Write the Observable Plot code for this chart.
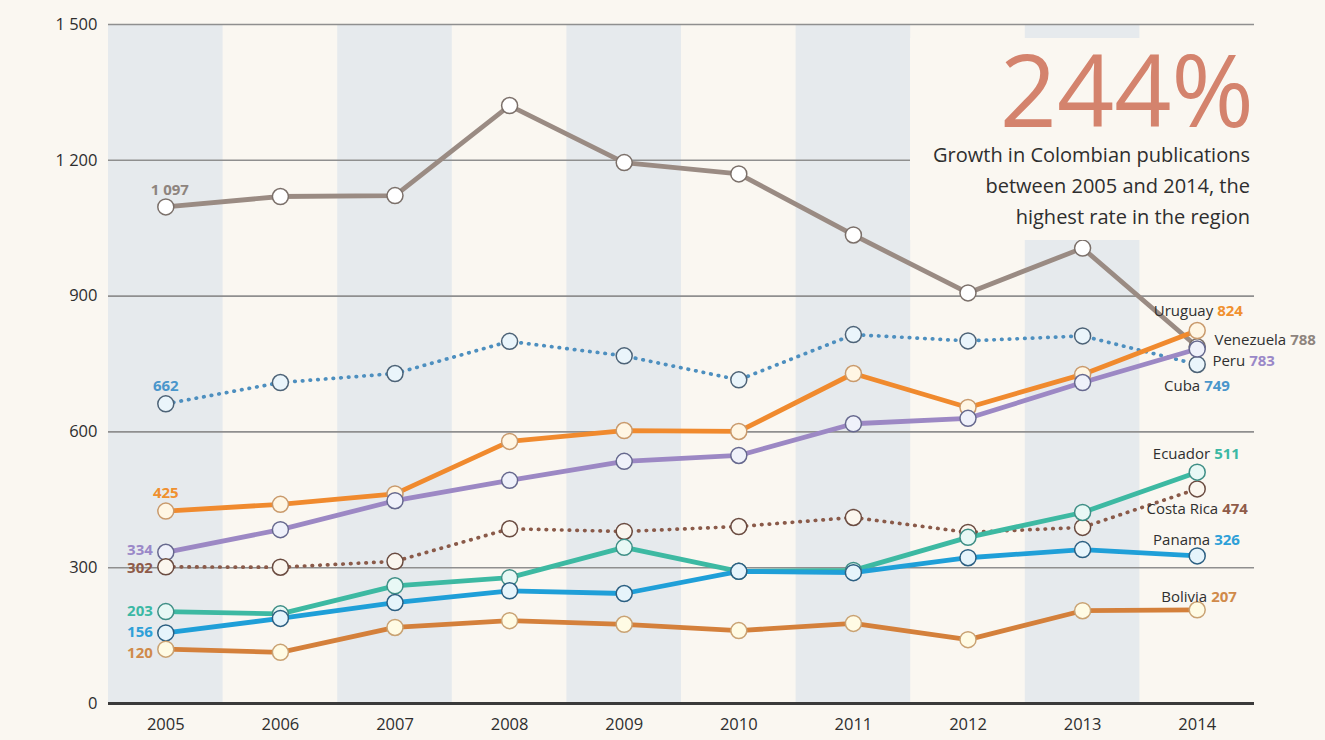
<!DOCTYPE html>
<html>
<head>
<meta charset="utf-8">
<script src="https://cdn.jsdelivr.net/npm/d3@7"></script>
<script src="https://cdn.jsdelivr.net/npm/@observablehq/plot@0.6"></script>
<style>
  html, body { margin: 0; padding: 0; background: #faf7f1; }
  body { font-family: "Open Sans", sans-serif; }
  #wrap { position: relative; width: 1325px; height: 740px; overflow: hidden; }
  #note { position: absolute; left: 910px; top: 38px; width: 344px; height: 202px; background: #faf7f1; }
  #note .big { position: absolute; right: 0; top: 8px; font-size: 100px; line-height: 84px; color: #d4836d; font-weight: 400; white-space: nowrap; }
  #note .sub { position: absolute; right: 4px; top: 101px; font-size: 20px; line-height: 31px; color: #2e2e2e; text-align: right; white-space: nowrap; }
</style>
</head>
<body>
<div id="wrap">
  <div id="chart"></div>
  <div id="note">
    <div class="big">244%</div>
    <div class="sub">Growth in Colombian publications<br>between 2005 and 2014, the<br>highest rate in the region</div>
  </div>
</div>
<script>
// ---------- data ----------
const years = [2005, 2006, 2007, 2008, 2009, 2010, 2011, 2012, 2013, 2014];
const countries = ["Venezuela", "Cuba", "Uruguay", "Peru", "Costa Rica", "Ecuador", "Panama", "Bolivia"];
const venezuela = [1097, 1120, 1122, 1321, 1195, 1170, 1035, 907, 1006, 788];
const cuba      = [662, 709, 729, 800, 768, 715, 815, 801, 812, 749];
const uruguay   = [425, 440, 463, 579, 603, 601, 729, 654, 727, 824];
const peru      = [334, 384, 448, 493, 535, 548, 618, 630, 709, 783];
const costaRica = [302, 301, 314, 386, 380, 391, 411, 378, 389, 474];
const ecuador   = [203, 198, 260, 278, 345, 292, 294, 367, 422, 511];
const panama    = [156, 188, 223, 249, 243, 292, 289, 322, 340, 326];
const bolivia   = [120, 113, 168, 183, 175, 161, 177, 141, 205, 207];
const yTicks = [0, 300, 600, 900, 1200, 1500];

const seriesValues = {
  "Venezuela": venezuela, "Cuba": cuba, "Uruguay": uruguay, "Peru": peru,
  "Costa Rica": costaRica, "Ecuador": ecuador, "Panama": panama, "Bolivia": bolivia
};

// ---------- styles ----------
const style = {
  "Venezuela":  {line: "#9a8b83", fill: "#ffffff", ring: "#7b706a", label: "#8e847e", dotted: false},
  "Cuba":       {line: "#4d8fbf", fill: "#eaf5fb", ring: "#4d6377", label: "#4a96cb", dotted: true},
  "Uruguay":    {line: "#f08a2e", fill: "#fff6e4", ring: "#c99a6c", label: "#f0902f", dotted: false},
  "Peru":       {line: "#9c88c4", fill: "#eff1fa", ring: "#66688e", label: "#9a88c8", dotted: false},
  "Costa Rica": {line: "#8a5a49", fill: "#fbf6ee", ring: "#6a4b40", label: "#8f5b49", dotted: true},
  "Ecuador":    {line: "#3db9a2", fill: "#e8f8f5", ring: "#3f8f86", label: "#3bb8a4", dotted: false},
  "Panama":     {line: "#1f9fd8", fill: "#e6f4fb", ring: "#2b5f82", label: "#2ea0d8", dotted: false},
  "Bolivia":    {line: "#d4803b", fill: "#fffbe4", ring: "#c9a273", label: "#d08a4a", dotted: false}
};
// label offsets (pixels) relative to the point
const leftLabel = {
  "Venezuela":  {dx: 4, dy: -17, anchor: "middle"},
  "Cuba":       {dx: 0, dy: -18, anchor: "middle"},
  "Uruguay":    {dx: 0, dy: -18, anchor: "middle"},
  "Peru":       {dx: -13, dy: -2, anchor: "end"},
  "Costa Rica": {dx: -13, dy: 1, anchor: "end"},
  "Ecuador":    {dx: -13, dy: 0, anchor: "end"},
  "Panama":     {dx: -13, dy: -1, anchor: "end"},
  "Bolivia":    {dx: -13, dy: 4, anchor: "end"}
};
const rightLabel = {
  "Uruguay":    {split: 18, dy: -19},
  "Venezuela":  {split: 91, dy: -7},
  "Peru":       {split: 50, dy: 12},
  "Cuba":       {split: 5, dy: 22},
  "Ecuador":    {split: 15, dy: -18},
  "Costa Rica": {split: 23, dy: 20},
  "Panama":     {split: 15, dy: -16},
  "Bolivia":    {split: 12, dy: -13}
};

const fmt = d3.formatLocale({decimal: ".", thousands: " ", grouping: [3], currency: ["", ""]}).format(",");

const rows = countries.flatMap(c => years.map((yr, i) => ({country: c, year: yr, value: seriesValues[c][i]})));
const first = rows.filter(d => d.year === years[0]);
const last = rows.filter(d => d.year === years[years.length - 1]);

const marks = [];
// alternating vertical bands
marks.push(Plot.rect(years.filter((d, i) => i % 2 === 0), {
  x1: d => d - 0.5, x2: d => d + 0.5, y1: yTicks[0], y2: yTicks[yTicks.length - 1], fill: "#e6eaed"
}));
marks.push(Plot.ruleY(yTicks.slice(1), {stroke: "#8f8f8f", strokeWidth: 1.6}));
marks.push(Plot.ruleY([yTicks[0]], {stroke: "#3a3a3a", strokeWidth: 3}));
marks.push(Plot.axisX({ticks: years, tickFormat: "d", tickSize: 0, tickPadding: 15, fontSize: 16.5, fill: "#2e2e2e", label: null}));
marks.push(Plot.axisY({ticks: yTicks, tickFormat: fmt, tickSize: 0, tickPadding: 11, fontSize: 16.5, fill: "#2e2e2e", label: null}));

// lines
for (const c of countries) {
  const s = style[c];
  const data = rows.filter(d => d.country === c);
  marks.push(Plot.line(data, s.dotted
    ? {x: "year", y: "value", stroke: s.line, strokeWidth: 3.7, strokeDasharray: "0.5 7.2", strokeLinecap: "round"}
    : {x: "year", y: "value", stroke: s.line, strokeWidth: 4.8, strokeLinejoin: "round", strokeLinecap: "round"}));
}
// points
for (const c of countries) {
  const s = style[c];
  marks.push(Plot.dot(rows.filter(d => d.country === c), {
    x: "year", y: "value", r: 8, fill: s.fill, stroke: s.ring, strokeWidth: 1.5
  }));
}
// left value labels
for (const c of countries) {
  const L = leftLabel[c];
  marks.push(Plot.text(first.filter(d => d.country === c), {
    x: "year", y: "value", text: d => fmt(d.value), dx: L.dx, dy: L.dy, textAnchor: L.anchor,
    fill: style[c].label, fontWeight: "bold", fontSize: 15
  }));
}
// right labels: name + value
for (const c of countries) {
  const R = rightLabel[c];
  const d = last.filter(r => r.country === c);
  marks.push(Plot.text(d, {
    x: "year", y: "value", text: "country", dx: R.split - 2, dy: R.dy, textAnchor: "end",
    fill: "#2f2f2f", fontSize: 15
  }));
  marks.push(Plot.text(d, {
    x: "year", y: "value", text: r => fmt(r.value), dx: R.split + 2, dy: R.dy, textAnchor: "start",
    fill: style[c].label, fontWeight: "bold", fontSize: 15
  }));
}

const chart = Plot.plot({
  width: 1325,
  height: 740,
  marginTop: 24,
  marginBottom: 37,
  marginLeft: 108,
  marginRight: 71,
  style: {background: "transparent", fontFamily: "'Open Sans', sans-serif", fontSize: "16px", color: "#333"},
  x: {domain: [years[0] - 0.5, years[years.length - 1] + 0.5]},
  y: {domain: [yTicks[0], yTicks[yTicks.length - 1]]},
  marks
});
document.getElementById("chart").appendChild(chart);
</script>
</body>
</html>
